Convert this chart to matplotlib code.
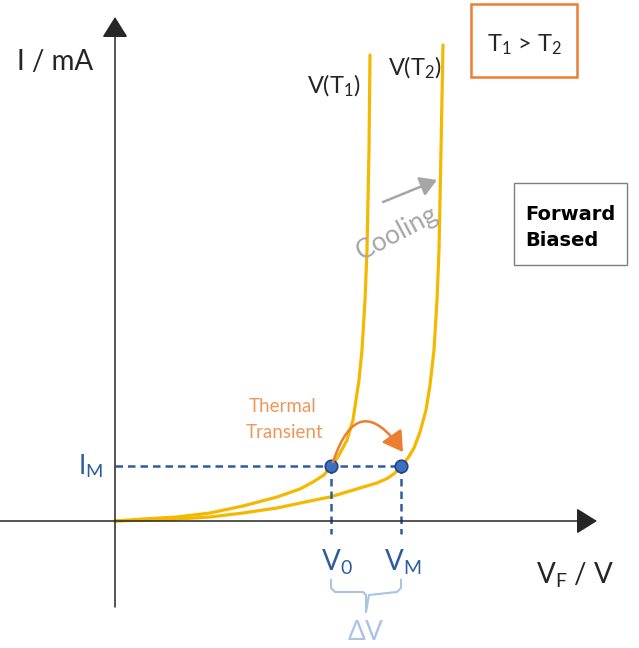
import matplotlib
matplotlib.use("Agg")
import matplotlib.pyplot as plt
from matplotlib.patches import Rectangle

plt.rcParams['font.family'] = ['Lato', 'DejaVu Sans']
plt.rcParams['mathtext.fontset'] = 'custom'
plt.rcParams['mathtext.rm'] = 'Lato'
plt.rcParams['mathtext.it'] = 'Lato:italic'

# forward characteristics at two junction temperatures (V, I in arbitrary units)
v_t1 = [0.00, 0.28, 0.62, 0.95, 1.28, 1.62, 1.85, 1.98, 2.09, 2.16, 2.23,
        2.32, 2.38, 2.41, 2.44, 2.47, 2.50, 2.52, 2.54, 2.55]
i_t1 = [0.00, 0.02, 0.04, 0.08, 0.15, 0.24, 0.32, 0.39, 0.46, 0.55, 0.64,
        0.81, 1.01, 1.21, 1.41, 1.71, 2.21, 2.71, 3.71, 4.66]
v_t2 = [0.00, 0.62, 0.95, 1.28, 1.62, 1.95, 2.15, 2.45, 2.62, 2.73, 2.80,
        2.86, 2.93, 2.99, 3.05, 3.11, 3.15, 3.19, 3.22, 3.24, 3.26, 3.28]
i_t2 = [0.00, 0.02, 0.04, 0.08, 0.13, 0.20, 0.24, 0.33, 0.38, 0.43, 0.48,
        0.55, 0.63, 0.73, 0.89, 1.11, 1.36, 1.71, 2.21, 2.71, 3.71, 4.76]

# measurement current and the two voltages it gives
i_m = 0.55
v_0 = 2.16
v_m = 2.86

yellow = '#F5B800'
blue = '#2E5C9E'
light_blue = '#A9C4E4'
orange = '#ED7D31'
dark = '#262626'

fig = plt.figure(figsize=(6.39, 6.48), dpi=100)
ax = fig.add_axes([0, 0, 1, 1])
ax.set_xlim(-1.15, 5.24)
ax.set_ylim(-1.27, 5.21)
ax.axis('off')

# axes with arrow heads
arrow = dict(arrowstyle='-|>,head_length=0.4,head_width=0.25', color=dark,
             lw=1.1, mutation_scale=32, shrinkA=0, shrinkB=0)
ax.annotate('', xy=(0, 5.04), xytext=(0, -0.86), arrowprops=arrow)
ax.annotate('', xy=(4.82, 0), xytext=(-1.15, 0), arrowprops=arrow)

# I-V curves
ax.plot(v_t1, i_t1, color=yellow, lw=2.3, solid_capstyle='round', solid_joinstyle='round')
ax.plot(v_t2, i_t2, color=yellow, lw=2.3, solid_capstyle='round', solid_joinstyle='round')

# measurement guides
ax.plot([0, v_m], [i_m, i_m], color=blue, lw=1.8, ls=(0, (3, 2)))
ax.plot([v_0, v_0], [i_m, -0.13], color=blue, lw=1.8, ls=(0, (3, 2)))
ax.plot([v_m, v_m], [i_m, -0.13], color=blue, lw=1.8, ls=(0, (3, 2)))
ax.plot([v_0, v_m], [i_m, i_m], 'o', ms=9, mfc='#3A6FC4', mec='#264478', mew=1.2)

# thermal transient jump
ax.annotate('', xy=(v_m + 0.02, i_m + 0.14), xytext=(v_0 + 0.02, i_m + 0.04),
            arrowprops=dict(arrowstyle='-|>,head_length=0.5,head_width=0.3',
                            color=orange, lw=1.8, mutation_scale=24,
                            shrinkA=0, shrinkB=0,
                            connectionstyle='arc3,rad=-1.0'))
ax.text(1.68, 1.14, 'Thermal', color='#F0965A', fontsize=13.5, ha='center', va='center')
ax.text(1.70, 0.88, 'Transient', color='#F0965A', fontsize=13.5, ha='center', va='center')

# brace for the voltage shift
mid = (v_0 + v_m) / 2
ax.plot([v_0, v_0, v_0 + 0.04, mid - 0.03, mid, mid, mid + 0.03, v_m - 0.04, v_m, v_m],
        [-0.59, -0.67, -0.71, -0.71, -0.74, -0.91, -0.74, -0.71, -0.67, -0.59],
        color=light_blue, lw=1.5)
ax.text(mid, -1.12, r'$\Delta$V', color=light_blue, fontsize=19, ha='center', va='center')

# axis and point labels
ax.text(-0.60, 4.59, 'I / mA', color=dark, fontsize=20, ha='center', va='center')
ax.text(4.60, -0.54, r'V$_\mathrm{F}$ / V', color=dark, fontsize=20, ha='center', va='center')
ax.text(-0.12, i_m, r'I$_\mathrm{M}$', color=blue, fontsize=19, ha='right', va='center')
ax.text(v_0 + 0.06, -0.41, r'V$_0$', color=blue, fontsize=20, ha='center', va='center')
ax.text(v_m + 0.02, -0.41, r'V$_\mathrm{M}$', color=blue, fontsize=20, ha='center', va='center')
ax.text(2.19, 4.35, r'V(T$_1$)', color=dark, fontsize=17, ha='center', va='center')
ax.text(3.00, 4.53, r'V(T$_2$)', color=dark, fontsize=17, ha='center', va='center')

# cooling direction
ax.text(2.82, 2.88, 'Cooling', color='#A6A6A6', fontsize=19, rotation=28,
        ha='center', va='center')
ax.annotate('', xy=(3.22, 3.41), xytext=(2.68, 3.19),
            arrowprops=dict(arrowstyle='-|>,head_length=0.5,head_width=0.3',
                            color='#A6A6A6', lw=1.8, mutation_scale=20,
                            shrinkA=0, shrinkB=0))

# info boxes
ax.add_patch(Rectangle((3.56, 4.44), 1.06, 0.73, fill=False, ec=orange, lw=1.8))
ax.text(4.09, 4.76, r'T$_1$ > T$_2$', color=dark, fontsize=17, ha='center', va='center')
ax.add_patch(Rectangle((3.99, 2.56), 1.13, 0.82, fill=False, ec='#7F7F7F', lw=1.0))
ax.text(4.10, 3.07, 'Forward', color='black', fontsize=14, fontweight='bold',
        family='DejaVu Sans', ha='left', va='center')
ax.text(4.10, 2.81, 'Biased', color='black', fontsize=14, fontweight='bold',
        family='DejaVu Sans', ha='left', va='center')

fig.savefig('out.png', dpi=100)
